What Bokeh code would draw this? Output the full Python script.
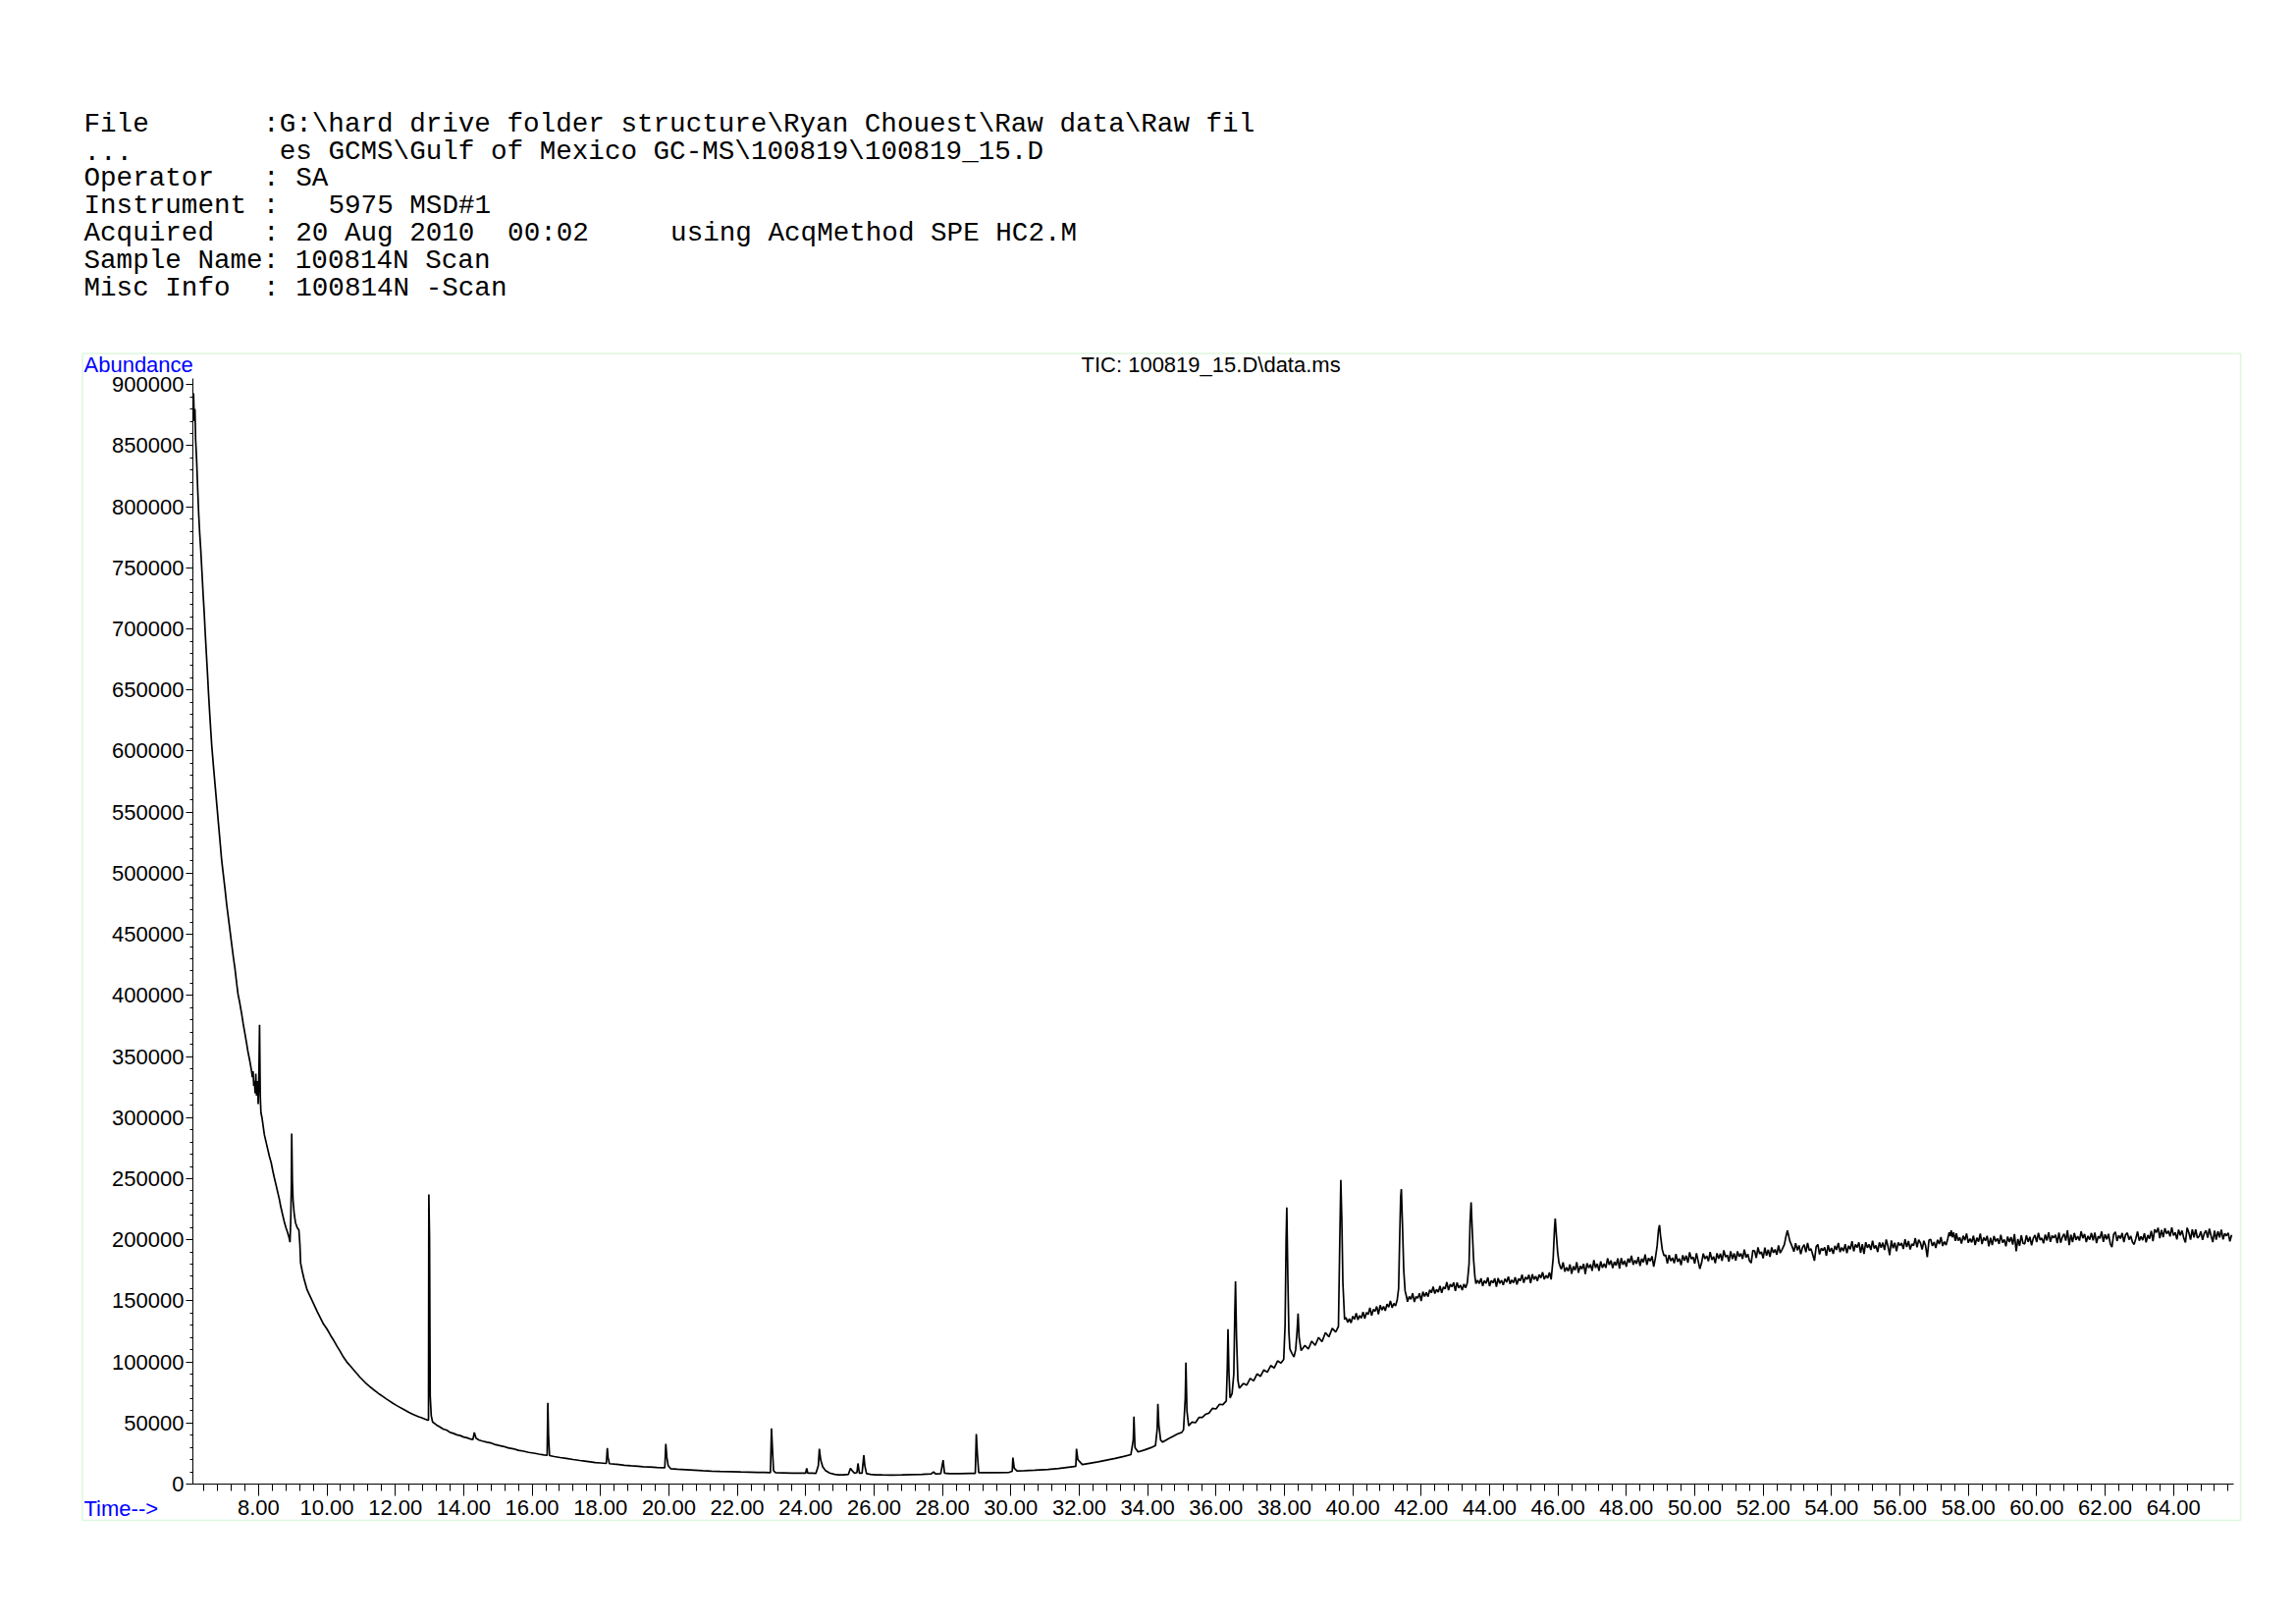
from bokeh.plotting import figure
from bokeh.models import (Range1d, SingleIntervalTicker, NumeralTickFormatter,
                          BasicTickFormatter, Label, BoxAnnotation, LinearAxis)
from bokeh.embed import file_html
from bokeh.resources import INLINE

# ---------------- header text (row, column, text) ----------------
header_rows = [
    (0, 0, "File"), (0, 11, r":G:\hard drive folder structure\Ryan Chouest\Raw data\Raw fil"),
    (1, 0, "..."), (1, 12, r"es GCMS\Gulf of Mexico GC-MS\100819\100819_15.D"),
    (2, 0, "Operator"), (2, 11, ": SA"),
    (3, 0, "Instrument :"), (3, 15, "5975 MSD#1"),
    (4, 0, "Acquired"), (4, 11, ": 20 Aug 2010"), (4, 26, "00:02"), (4, 36, "using AcqMethod SPE HC2.M"),
    (5, 0, "Sample Name: 100814N Scan"),
    (6, 0, "Misc Info"), (6, 11, ": 100814N -Scan"),
]
chart_title = r"TIC: 100819_15.D\data.ms"
y_label = "Abundance"
x_label = "Time-->"

# axis extents
time_start, time_end = 6.08, 65.76
abund_top = 905000

# ---------------- chromatogram readings (time [min], abundance) ----------------
seg_early = [
    (6.10, 893000), (6.12, 870000), (6.14, 880000), (6.16, 855000), (6.19, 838000), (6.22, 815000),
    (6.25, 794000), (6.28, 778000), (6.31, 765000), (6.35, 744000), (6.38, 728000), (6.41, 714000),
    (6.44, 697000), (6.48, 677000), (6.51, 662000), (6.54, 646000), (6.58, 627000), (6.63, 605000),
    (6.68, 588000), (6.73, 572000), (6.78, 556000), (6.83, 540000), (6.88, 524000), (6.92, 511000),
    (6.97, 499000), (7.02, 487000), (7.07, 474000), (7.12, 463000), (7.17, 452000), (7.21, 443000),
    (7.26, 432000), (7.31, 422000), (7.36, 410000), (7.40, 401000), (7.45, 394000), (7.50, 386000),
    (7.55, 377000), (7.60, 369000), (7.65, 361000), (7.69, 354000), (7.74, 347000), (7.79, 339000),
    (7.82, 333000), (7.84, 338000), (7.86, 326000), (7.88, 330000), (7.90, 320000), (7.92, 336000),
    (7.94, 318000), (7.97, 330000), (7.99, 311000), (8.01, 335000), (8.03, 376000), (8.05, 318000),
    (8.07, 304000), (8.10, 300000), (8.13, 294000), (8.17, 286000), (8.22, 280000), (8.27, 274000),
    (8.32, 268000), (8.37, 263000), (8.42, 256000), (8.46, 251000), (8.51, 245000), (8.56, 239000),
    (8.61, 233000), (8.65, 227000), (8.70, 221000), (8.75, 215000), (8.80, 210000), (8.85, 206000),
    (8.89, 202000), (8.92, 198000), (8.94, 214000), (8.96, 245000), (8.97, 287000), (8.99, 248000),
    (9.01, 232000), (9.04, 222000), (9.08, 214000), (9.13, 210000), (9.18, 208000), (9.21, 196000),
    (9.23, 181000), (9.28, 174000), (9.33, 168000), (9.38, 163000), (9.42, 159000), (9.52, 153000),
    (9.62, 147000), (9.72, 141000), (9.81, 136000), (9.90, 131000), (10.00, 127000), (10.10, 122000),
    (10.19, 118000), (10.29, 113000), (10.38, 109000), (10.48, 104000), (10.58, 100000), (10.68, 96800),
    (10.77, 93800), (10.87, 90600), (10.96, 87600), (11.06, 84800), (11.15, 82200), (11.25, 79800),
    (11.35, 77600), (11.45, 75500), (11.54, 73500), (11.64, 71600), (11.73, 69800), (11.83, 68000),
    (11.92, 66300), (12.02, 64600), (12.12, 63000), (12.22, 61400), (12.31, 60000), (12.40, 58600),
    (12.50, 57300), (12.60, 56000), (12.69, 55000), (12.79, 54000), (12.88, 53000), (12.95, 52200),
    (12.97, 52500), (12.98, 237000), (13.00, 203000), (13.02, 72000), (13.05, 56000), (13.09, 50800),
]

seg_middle = [
    (13.20, 48500), (13.30, 46800), (13.40, 45000), (13.50, 44200), (13.60, 42300), (13.70, 41500),
    (13.80, 40300), (13.90, 39700), (14.00, 38500), (14.10, 37900), (14.20, 36800), (14.27, 36500),
    (14.31, 42300), (14.36, 37500), (14.45, 36000), (14.55, 35200), (14.68, 34300), (14.80, 33600),
    (14.90, 32500), (15.00, 31800), (15.15, 30900), (15.30, 29600), (15.45, 28900), (15.60, 27600),
    (15.75, 26900), (15.90, 25900), (16.05, 25300), (16.20, 24500), (16.35, 23800), (16.44, 23600),
    (16.46, 66400), (16.48, 40000), (16.51, 23300), (16.65, 22500), (16.82, 21700), (17.00, 21000),
    (17.20, 20100), (17.40, 19300), (17.54, 18800), (17.70, 18200), (17.85, 17600), (18.00, 17300),
    (18.17, 16900), (18.20, 29500), (18.22, 22000), (18.26, 16700), (18.40, 16300), (18.54, 16000),
    (18.70, 15400), (18.90, 14900), (19.10, 14500), (19.25, 14200), (19.45, 13900), (19.65, 13600),
    (19.88, 13300), (19.91, 33000), (19.94, 22000), (19.98, 15000), (20.05, 12600), (20.25, 12100),
    (20.50, 11700), (20.75, 11300), (21.00, 10900), (21.25, 10600), (21.50, 10400), (21.80, 10200),
    (22.10, 9900), (22.35, 9800), (22.60, 9600), (22.80, 9500), (22.97, 9400), (23.00, 45500),
    (23.03, 28000), (23.06, 11000), (23.12, 9400), (23.35, 9200), (23.60, 9000), (23.85, 8900),
    (24.00, 9000), (24.03, 12900), (24.06, 9000), (24.20, 8900), (24.30, 8800), (24.37, 15000),
    (24.40, 28900), (24.44, 19600), (24.50, 14000), (24.58, 11000), (24.70, 9000), (24.85, 7900),
    (24.96, 7500), (25.10, 7500), (25.25, 8000), (25.31, 12900), (25.36, 11000), (25.43, 8800),
    (25.50, 9500), (25.53, 16900), (25.57, 9000), (25.65, 9000), (25.70, 23600), (25.73, 15000),
    (25.78, 8500), (25.90, 8000), (26.05, 7600), (26.24, 7500), (26.50, 7400), (26.81, 7500),
    (27.10, 7800), (27.40, 8000), (27.67, 8300), (27.74, 10000), (27.80, 8300), (27.95, 8500),
    (28.02, 19600), (28.06, 9000), (28.20, 8500), (28.50, 8600), (28.80, 8800), (28.96, 8800),
    (28.99, 41000), (29.02, 25000), (29.06, 9400), (29.30, 9300), (29.60, 9400), (29.95, 9600),
    (30.04, 10500), (30.06, 21700), (30.10, 13000), (30.18, 10700), (30.40, 10900), (30.70, 11300),
    (31.09, 12000), (31.40, 12800), (31.80, 14200), (31.90, 14500), (31.92, 28900), (31.96, 20000),
    (32.09, 16000), (32.30, 17000), (32.55, 18200), (32.80, 19600), (33.05, 21000), (33.30, 22600),
    (33.51, 24100), (33.58, 36000), (33.60, 55200), (33.63, 30000), (33.72, 26300), (33.90, 27800),
    (34.10, 29800), (34.23, 31600), (34.28, 45000), (34.30, 65600), (34.33, 48000), (34.38, 36000),
    (34.44, 34300), (34.60, 37000), (34.75, 39200), (34.87, 41000), (35.00, 42300),
]

seg_rise = [
    (35.05, 44500), (35.10, 70000), (35.12, 99400), (35.15, 60000), (35.20, 47700), (35.30, 50800),
    (35.40, 50200), (35.50, 54500), (35.60, 54600), (35.69, 57000), (35.80, 58200), (35.90, 62000),
    (36.00, 61500), (36.10, 65300), (36.20, 65000), (36.30, 68000), (36.33, 95000), (36.35, 126700),
    (36.38, 90000), (36.41, 70500), (36.47, 74000), (36.52, 90000), (36.55, 140000), (36.57, 166000),
    (36.60, 120000), (36.64, 85000), (36.68, 78500), (36.80, 82300), (36.90, 81000), (37.00, 86500),
    (37.10, 84500), (37.20, 90200), (37.30, 88200), (37.40, 93500), (37.50, 91500), (37.60, 97000),
    (37.70, 95000), (37.80, 100800), (37.90, 99000), (37.98, 102000), (38.02, 130000), (38.05, 200000),
    (38.07, 226400), (38.10, 170000), (38.13, 125000), (38.16, 110600), (38.22, 107000), (38.28, 104000),
    (38.33, 110000), (38.37, 125000), (38.40, 139600), (38.43, 120000), (38.49, 109300), (38.60, 113500),
    (38.70, 110500), (38.80, 117000), (38.90, 113500), (39.00, 120000), (39.10, 116500), (39.20, 124000),
    (39.30, 120500), (39.40, 127500), (39.50, 124500), (39.58, 129000), (39.62, 200000), (39.65, 249000),
    (39.68, 215000), (39.71, 165000), (39.76, 134700),
]

seg_plateau = [
    (39.80, 136400), (39.85, 132400), (39.90, 135400), (39.95, 131900), (40.00, 137400), (40.05, 134900),
    (40.10, 139900), (40.15, 134400), (40.20, 137900), (40.25, 135900), (40.30, 140900), (40.35, 135400),
    (40.40, 140400), (40.45, 138900), (40.50, 144400), (40.55, 137900), (40.60, 142900), (40.65, 141400),
    (40.70, 145400), (40.75, 138900), (40.80, 146400), (40.85, 142400), (40.90, 145400), (40.95, 141900),
    (41.00, 147400), (41.05, 144900), (41.10, 149900), (41.15, 144400), (41.20, 147900), (41.25, 145900),
    (41.30, 150900), (41.34, 160000), (41.37, 200000), (41.40, 235000), (41.42, 241400), (41.45, 215000),
    (41.49, 175000), (41.53, 158000), (41.57, 153500),
    (41.60, 149300), (41.65, 153500), (41.70, 151300), (41.75, 156100), (41.80, 149000), (41.85, 153500),
    (41.90, 152100), (41.95, 156200), (42.00, 149900), (42.05, 157500), (42.10, 153600), (42.15, 156800),
    (42.20, 153400), (42.25, 159000), (42.30, 156600), (42.35, 161500), (42.40, 155900), (42.45, 159300),
    (42.50, 157200), (42.55, 162100), (42.60, 156500), (42.65, 161400), (42.70, 159800), (42.75, 165300),
    (42.80, 158700), (42.85, 163500), (42.90, 161500), (42.95, 165000), (43.00, 158000), (43.05, 165000),
    (43.10, 160500), (43.15, 162900), (43.20, 158800), (43.25, 163700), (43.30, 160600), (43.35, 165000),
    (43.40, 180000), (43.43, 215000), (43.46, 230700), (43.49, 210000), (43.53, 185000), (43.57, 170000),
    (43.60, 164000), (43.65, 166800), (43.70, 164100), (43.75, 168400), (43.80, 162200), (43.85, 166500),
    (43.90, 164300), (43.95, 169100), (44.00, 162000), (44.05, 166600), (44.10, 164700), (44.15, 168400),
    (44.20, 161500), (44.25, 168600), (44.30, 164200), (44.35, 166800), (44.40, 163000), (44.45, 168100),
    (44.50, 165200), (44.55, 169800), (44.60, 163900), (44.65, 167100), (44.70, 164700), (44.75, 169300),
    (44.80, 163400), (44.85, 168100), (44.90, 166300), (44.95, 171500), (45.00, 164700), (45.05, 169400),
    (45.10, 167600), (45.15, 171300), (45.20, 164500), (45.25, 171700), (45.30, 167400), (45.35, 170100),
    (45.40, 166300), (45.45, 171500), (45.50, 168700), (45.55, 173400), (45.60, 167600), (45.65, 170800),
    (45.70, 168500), (45.75, 173200), (45.80, 167500),
    (45.86, 185000), (45.90, 210000), (45.92, 217300), (45.95, 205000), (45.99, 190000), (46.03, 181000),
    (46.07, 177600),
    (46.10, 176000), (46.15, 181500), (46.20, 173900), (46.25, 177400), (46.30, 174300), (46.35, 179800),
    (46.40, 172200), (46.45, 178200), (46.50, 175100), (46.55, 181600), (46.60, 173000), (46.65, 178500),
    (46.70, 176000), (46.75, 180300), (46.80, 172000), (46.85, 180800), (46.90, 177000), (46.95, 179800),
    (47.00, 174500), (47.05, 183300), (47.10, 177000), (47.15, 180300), (47.20, 174500), (47.25, 182300),
    (47.30, 177000), (47.35, 180300), (47.40, 177000), (47.45, 184800), (47.50, 179400), (47.55, 183100),
    (47.60, 176700), (47.65, 181900), (47.70, 179000), (47.75, 184700), (47.80, 176300), (47.85, 185000),
    (47.90, 179600), (47.95, 182800), (48.00, 177900), (48.05, 184600), (48.10, 181200), (48.15, 186900),
    (48.20, 179500), (48.25, 183200), (48.30, 180300), (48.35, 186000), (48.40, 178500), (48.45, 184500),
    (48.50, 181500), (48.55, 188000), (48.60, 179500), (48.65, 185000), (48.70, 182500), (48.75, 186500),
    (48.80, 178000), (48.85, 185200), (48.90, 195000), (48.94, 208000), (48.97, 212000), (49.00, 203000),
    (49.05, 192000), (49.10, 187000),
]

seg_late = [
    (49.15, 187500), (49.20, 180500), (49.25, 187500), (49.30, 182600), (49.35, 185200), (49.40, 180800),
    (49.45, 188400), (49.50, 182000), (49.55, 184600), (49.60, 179200), (49.65, 187300), (49.70, 182900),
    (49.75, 187000), (49.80, 181100), (49.85, 189700), (49.90, 184300), (49.95, 185900), (50.00, 180500),
    (50.05, 189000), (50.10, 182600), (50.15, 176100), (50.20, 181200), (50.25, 188700), (50.30, 184300),
    (50.35, 186800), (50.40, 182400), (50.45, 190000), (50.50, 183600), (50.55, 186200), (50.60, 180800),
    (50.65, 188900), (50.70, 184500), (50.75, 188600), (50.80, 182700), (50.85, 191300), (50.90, 185900),
    (50.95, 187500), (51.00, 182100), (51.05, 190600), (51.10, 184200), (51.15, 188800), (51.20, 182900),
    (51.25, 190500), (51.30, 186100), (51.35, 188700), (51.40, 184300), (51.45, 191900), (51.50, 185500),
    (51.55, 188200), (51.60, 182900), (51.65, 181000), (51.70, 191200), (51.75, 190900), (51.80, 185100),
    (51.85, 193700), (51.90, 188400), (51.95, 190100), (52.00, 184800), (52.05, 193500), (52.10, 187100),
    (52.15, 191800), (52.20, 186000), (52.25, 193700), (52.30, 189300), (52.35, 192000), (52.40, 187700),
    (52.45, 195400), (52.50, 189100), (52.55, 191800),
    (52.62, 196000), (52.67, 203000), (52.71, 207600), (52.74, 204000), (52.78, 199000), (52.84, 195000),
    (52.90, 190300), (52.95, 197100), (53.00, 191400), (53.05, 195300), (53.10, 188200), (53.15, 193600),
    (53.20, 196000), (53.25, 189900), (53.30, 197300), (53.35, 191200), (53.40, 192500), (53.45, 187900),
    (53.50, 182800), (53.55, 194200), (53.60, 196100), (53.65, 188000), (53.70, 193000), (53.75, 191100),
    (53.80, 193800), (53.85, 186900),
    (53.90, 195500), (53.95, 190200), (54.00, 193300), (54.05, 188400), (54.10, 195000), (54.15, 191700),
    (54.20, 197300), (54.25, 189900), (54.30, 193600), (54.35, 190700), (54.40, 196300), (54.45, 189000),
    (54.50, 195100), (54.55, 192200), (54.60, 198800), (54.65, 190500), (54.70, 196100), (54.75, 193700),
    (54.80, 197800), (54.85, 189300),
    (54.90, 196400), (54.95, 188400), (55.00, 198000), (55.05, 193500), (55.10, 196100), (55.15, 191600),
    (55.20, 199200), (55.25, 192800), (55.30, 195300), (55.35, 189900), (55.40, 197900), (55.45, 193500),
    (55.50, 197600), (55.55, 191600), (55.60, 200200), (55.65, 194800), (55.70, 187300), (55.75, 199400),
    (55.80, 193000), (55.85, 197600),
    (55.90, 190600), (55.95, 197700), (56.00, 195200), (56.05, 197300), (56.10, 192400), (56.15, 200400),
    (56.20, 194000), (56.25, 199000), (56.30, 192100), (56.35, 196600), (56.40, 195200), (56.45, 201300),
    (56.50, 193800), (56.55, 199900), (56.60, 197400), (56.65, 192000), (56.70, 199100), (56.75, 195100),
    (56.80, 185700), (56.85, 199700),
    (56.90, 200300), (56.95, 194900), (57.00, 198100), (57.05, 193200), (57.10, 199900), (57.15, 196500),
    (57.20, 202200), (57.25, 194900), (57.30, 198500), (57.35, 195700),
    (57.40, 201000), (57.44, 206000), (57.47, 203000), (57.50, 207600), (57.53, 202000), (57.57, 206000),
    (57.62, 199000),
    (57.65, 205300), (57.70, 199200), (57.75, 201900), (57.80, 196800), (57.85, 203200), (57.90, 199600),
    (57.95, 205100), (58.00, 197500), (58.05, 200900), (58.10, 197800), (58.15, 203300), (58.20, 195700),
    (58.25, 201600), (58.30, 198500), (58.35, 205000), (58.40, 196400), (58.45, 201800), (58.50, 199200),
    (58.55, 203200), (58.60, 194600),
    (58.65, 201600), (58.70, 195600), (58.75, 203100), (58.80, 198600), (58.85, 201100), (58.90, 196600),
    (58.95, 204100), (59.00, 197600), (59.05, 200100), (59.10, 194600), (59.15, 202600), (59.20, 198100),
    (59.25, 202100), (59.30, 196100), (59.35, 204600), (59.40, 190600), (59.45, 200600), (59.50, 195100),
    (59.55, 203600), (59.60, 197100),
    (59.65, 196600), (59.70, 203600), (59.75, 198200), (59.80, 202400), (59.85, 195500), (59.90, 201200),
    (59.95, 203800), (60.00, 198000), (60.05, 205600), (60.10, 199800), (60.15, 201400), (60.20, 197100),
    (60.25, 204200), (60.30, 199400), (60.35, 206000), (60.40, 198200), (60.45, 203300), (60.50, 201500),
    (60.55, 204100), (60.60, 197300),
    (60.65, 205900), (60.70, 197600), (60.75, 202200), (60.80, 204800), (60.85, 199300), (60.90, 207700),
    (60.95, 195600), (61.00, 204100), (61.05, 198000), (61.10, 205500), (61.15, 199900), (61.20, 202900),
    (61.25, 199300), (61.30, 206800), (61.35, 201200), (61.40, 204700), (61.45, 198100), (61.50, 203100),
    (61.55, 200000), (61.60, 205500),
    (61.65, 199400), (61.70, 205900), (61.75, 197300), (61.80, 202800), (61.85, 201200), (61.90, 206700),
    (61.95, 198300), (62.00, 204300), (62.05, 200300), (62.10, 204800), (62.15, 196900), (62.20, 193900),
    (62.25, 204400), (62.30, 206400), (62.35, 199000), (62.40, 203500), (62.45, 201000), (62.50, 205500),
    (62.55, 198100), (62.60, 204100),
    (62.65, 205600), (62.70, 200100), (62.75, 203100), (62.80, 198200), (62.85, 196200), (62.90, 201200),
    (62.95, 206700), (63.00, 199200), (63.05, 202700), (63.10, 199700), (63.15, 205300), (63.20, 197800),
    (63.25, 203800), (63.30, 200800), (63.35, 207300), (63.40, 198800), (63.45, 208500), (63.50, 205900),
    (63.55, 209800), (63.60, 201200),
    (63.65, 208100), (63.70, 202000), (63.75, 209400), (63.80, 204900), (63.85, 207300), (63.90, 202700),
    (63.95, 210100), (64.00, 203500), (64.05, 205900), (64.10, 200300), (64.15, 208200), (64.20, 203600),
    (64.25, 207500), (64.30, 201400), (64.35, 197800), (64.40, 209800), (64.45, 205700), (64.50, 200100),
    (64.55, 208500), (64.60, 201900),
    (64.65, 208400), (64.70, 201400), (64.75, 202800), (64.80, 206800), (64.85, 199800), (64.90, 205200),
    (64.95, 207700), (65.00, 201700), (65.05, 209100), (65.10, 203100), (65.15, 198000), (65.20, 207500),
    (65.25, 200000), (65.30, 206900), (65.35, 201900), (65.40, 208300), (65.45, 200300), (65.50, 205200),
    (65.55, 203200), (65.60, 205600), (65.65, 198600), (65.70, 204000),
]

segments = (seg_early, seg_middle, seg_rise, seg_plateau, seg_late)
time_min = [t for seg in segments for t, _ in seg]
abundance = [a for seg in segments for _, a in seg]

# ---------------- page geometry (pixels) ----------------
W, H = 2330, 1645
AX_LEFT_PX, AX_RIGHT_PX = 196.0, 2275.0     # x-axis extent on the page
AX_ZERO_PX, AX_TOP_PX = 1511.0, 385.0       # y = 0 and top of the y axis
SX = (AX_RIGHT_PX - AX_LEFT_PX) / (time_end - time_start)   # px per minute
SY = (AX_ZERO_PX - AX_TOP_PX) / abund_top                     # px per count


def xd(px):
    return time_start + (px - AX_LEFT_PX) / SX


def yd(py):
    return (AX_ZERO_PX - py) / SY


p = figure(width=W, height=H, output_backend="svg", toolbar_location=None,
           x_range=Range1d(xd(0), xd(W)), y_range=Range1d(yd(H), yd(0)),
           x_axis_type=None, y_axis_type=None,
           min_border=0, min_border_left=0, min_border_right=0,
           min_border_top=0, min_border_bottom=0,
           background_fill_color="white", border_fill_color="white")
p.title.visible = False
p.outline_line_color = None
p.grid.visible = False

p.line(time_min, abundance, line_color="black", line_width=1.7)

xa = LinearAxis(fixed_location=0, bounds=(time_start, time_end),
                ticker=SingleIntervalTicker(interval=2, num_minor_ticks=5),
                formatter=NumeralTickFormatter(format="0.00"))
xa.major_tick_out = 12
xa.major_tick_in = 0
xa.minor_tick_out = 7
xa.minor_tick_in = 0
xa.major_label_standoff = 4

ya = LinearAxis(fixed_location=time_start, bounds=(0, abund_top),
                ticker=SingleIntervalTicker(interval=50000, num_minor_ticks=5),
                formatter=BasicTickFormatter(use_scientific=False))
ya.major_tick_out = 7
ya.major_tick_in = 0
ya.minor_tick_out = 3
ya.minor_tick_in = 0
ya.major_label_standoff = 2

for ax in (xa, ya):
    ax.axis_line_color = "black"
    ax.major_tick_line_color = "black"
    ax.minor_tick_line_color = "black"
    ax.major_label_text_font = "Liberation Sans"
    ax.major_label_text_font_size = "22px"
    ax.major_label_text_color = "black"

p.add_layout(xa, "below")
p.add_layout(ya, "left")


def page_label(px, py, text, **kw):
    p.add_layout(Label(x=xd(px), y=yd(py), text=text, text_baseline="middle", **kw))


# green surrounding box
p.add_layout(BoxAnnotation(left=xd(83.5), right=xd(2282), bottom=yd(1548), top=yd(359.5),
                           fill_alpha=0, line_color="#8ee68e", line_width=1.5))

col_w = 16.6
row_y = [125.5, 153.5, 181, 209, 237, 264.5, 292.5]
for row, col, txt in header_rows:
    page_label(85 + col * col_w, row_y[row], txt, text_font="Liberation Mono",
               text_font_size="27.6px", text_color="black")

page_label(85, 371, y_label, text_font="Liberation Sans", text_font_size="22px", text_color="#0000ff")
page_label(85, 1536, x_label, text_font="Liberation Sans", text_font_size="22px", text_color="#0000ff")
page_label(1101, 371, chart_title, text_font="Liberation Sans", text_font_size="22px", text_color="black")

open("out.html", "w").write(file_html(p, INLINE))
